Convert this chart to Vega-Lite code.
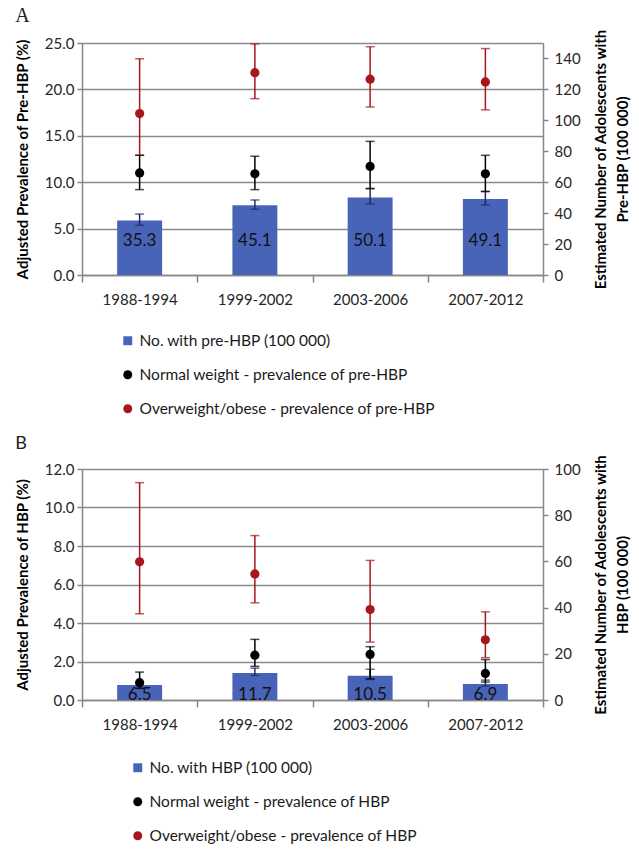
{
  "$schema": "https://vega.github.io/schema/vega-lite/v6.json",
  "padding": {"left": 15, "top": 6, "right": 0, "bottom": 0},
  "background": "white",
  "config": {
    "font": "Lato",
    "view": {"stroke": null},
    "axis": {
      "labelFont": "Lato", "labelFontSize": 15, "labelColor": "#262626", "labelOverlap": false,
      "titleFont": "Lato", "titleFontSize": 15, "titleFontWeight": "bold", "titleColor": "#000000",
      "domainColor": "#878787", "domainWidth": 1.5, "tickColor": "#878787", "tickWidth": 1.5,
      "gridColor": "#8a8a8a", "gridWidth": 1.5
    },
    "legend": {"labelFont": "Lato", "labelFontSize": 15.5, "labelColor": "#1a1a1a", "labelLimit": 500}
  },
  "datasets": {
    "pa": [
      {"period": "1988-1994", "kind": "bar", "series": "No. with pre-HBP (100 000)", "value": 35.3, "lo": 32.1, "hi": 39.4},
      {"period": "1999-2002", "kind": "bar", "series": "No. with pre-HBP (100 000)", "value": 45.1, "lo": 42.5, "hi": 48.5},
      {"period": "2003-2006", "kind": "bar", "series": "No. with pre-HBP (100 000)", "value": 50.1, "lo": 45.9, "hi": 56.0},
      {"period": "2007-2012", "kind": "bar", "series": "No. with pre-HBP (100 000)", "value": 49.1, "lo": 45.3, "hi": 54.0},
      {"period": "1988-1994", "kind": "normal", "series": "Normal weight - prevalence of pre-HBP", "value": 11.0, "lo": 9.2, "hi": 12.9},
      {"period": "1999-2002", "kind": "normal", "series": "Normal weight - prevalence of pre-HBP", "value": 10.9, "lo": 9.2, "hi": 12.8},
      {"period": "2003-2006", "kind": "normal", "series": "Normal weight - prevalence of pre-HBP", "value": 11.7, "lo": 9.3, "hi": 14.4},
      {"period": "2007-2012", "kind": "normal", "series": "Normal weight - prevalence of pre-HBP", "value": 10.9, "lo": 9.0, "hi": 12.9},
      {"period": "1988-1994", "kind": "over", "series": "Overweight/obese - prevalence of pre-HBP", "value": 17.4, "lo": 12.9, "hi": 23.3},
      {"period": "1999-2002", "kind": "over", "series": "Overweight/obese - prevalence of pre-HBP", "value": 21.8, "lo": 19.0, "hi": 24.9},
      {"period": "2003-2006", "kind": "over", "series": "Overweight/obese - prevalence of pre-HBP", "value": 21.1, "lo": 18.1, "hi": 24.6},
      {"period": "2007-2012", "kind": "over", "series": "Overweight/obese - prevalence of pre-HBP", "value": 20.8, "lo": 17.8, "hi": 24.4}
    ],
    "pb": [
      {"period": "1988-1994", "kind": "bar", "series": "No. with HBP (100 000)", "value": 6.5, "lo": 5.2, "hi": 7.9},
      {"period": "1999-2002", "kind": "bar", "series": "No. with HBP (100 000)", "value": 11.7, "lo": 10.6, "hi": 13.8},
      {"period": "2003-2006", "kind": "bar", "series": "No. with HBP (100 000)", "value": 10.5, "lo": 8.9, "hi": 13.3},
      {"period": "2007-2012", "kind": "bar", "series": "No. with HBP (100 000)", "value": 6.9, "lo": 6.0, "hi": 8.6},
      {"period": "1988-1994", "kind": "normal", "series": "Normal weight - prevalence of HBP", "value": 0.9, "lo": 0.6, "hi": 1.45},
      {"period": "1999-2002", "kind": "normal", "series": "Normal weight - prevalence of HBP", "value": 2.33, "lo": 1.75, "hi": 3.15},
      {"period": "2003-2006", "kind": "normal", "series": "Normal weight - prevalence of HBP", "value": 2.37, "lo": 1.1, "hi": 2.77},
      {"period": "2007-2012", "kind": "normal", "series": "Normal weight - prevalence of HBP", "value": 1.38, "lo": 0.93, "hi": 2.1},
      {"period": "1988-1994", "kind": "over", "series": "Overweight/obese - prevalence of HBP", "value": 7.18, "lo": 4.48, "hi": 11.29},
      {"period": "1999-2002", "kind": "over", "series": "Overweight/obese - prevalence of HBP", "value": 6.55, "lo": 5.05, "hi": 8.54},
      {"period": "2003-2006", "kind": "over", "series": "Overweight/obese - prevalence of HBP", "value": 4.7, "lo": 3.01, "hi": 7.25},
      {"period": "2007-2012", "kind": "over", "series": "Overweight/obese - prevalence of HBP", "value": 3.13, "lo": 2.2, "hi": 4.58}
    ]
  },
  "spacing": 16,
  "resolve": {"scale": {"color": "independent", "shape": "independent", "x": "independent", "y": "independent"}},
  "vconcat": [
    {
      "title": {"text": "A", "anchor": "start", "frame": "bounds", "font": "Liberation Serif", "fontSize": 20, "fontWeight": "normal", "color": "#222222", "offset": 2},
      "width": 461, "height": 232,
      "data": {"name": "pa"},
      "encoding": {
        "x": {"field": "period", "type": "nominal", "sort": null, "title": null,
          "scale": {"paddingInner": 0, "paddingOuter": 0},
          "axis": {"labelAngle": 0, "tickBand": "extent", "tickSize": 7, "labelPadding": 10, "grid": false}}
      },
      "resolve": {"scale": {"y": "independent"}},
      "layer": [
        {
          "transform": [{"filter": "datum.kind === 'bar'"}],
          "layer": [
            {
              "mark": {"type": "bar", "width": {"band": 0.39}},
              "encoding": {
                "y": {"field": "value", "type": "quantitative", "scale": {"domain": [0, 150], "nice": false},
                  "axis": {"orient": "right", "values": [0, 20, 40, 60, 80, 100, 120, 140], "tickCount": 20, "grid": false,
                    "title": ["Estimated Number of Adolescents with", "Pre-HBP (100 000)"],
                    "titleAngle": 270, "titleBaseline": "top", "titlePadding": -9, "titleLineHeight": 22, "tickSize": 5, "labelPadding": 6}},
                "color": {"field": "series", "type": "nominal",
                  "scale": {"domain": ["No. with pre-HBP (100 000)", "Normal weight - prevalence of pre-HBP", "Overweight/obese - prevalence of pre-HBP"],
                    "range": ["#4864B8", "#000000", "#A8161D"]},
                  "legend": {"orient": "none", "legendX": 38, "legendY": 290, "direction": "vertical", "title": null,
                    "symbolSize": 80, "symbolStrokeWidth": 0, "labelOffset": 4, "rowPadding": 17, "labelFontSize": 15.5}}
              }
            },
            {
              "mark": {"type": "rule", "color": "#1E2B63", "strokeWidth": 1.5},
              "encoding": {"y": {"field": "lo", "type": "quantitative", "scale": {"domain": [0, 150], "nice": false}}, "y2": {"field": "hi"}}
            },
            {
              "mark": {"type": "tick", "color": "#1E2B63", "size": 9, "thickness": 1.5},
              "encoding": {"y": {"field": "lo", "type": "quantitative", "scale": {"domain": [0, 150], "nice": false}}}
            },
            {
              "mark": {"type": "tick", "color": "#1E2B63", "size": 9, "thickness": 1.5},
              "encoding": {"y": {"field": "hi", "type": "quantitative", "scale": {"domain": [0, 150], "nice": false}}}
            },
            {
              "mark": {"type": "text", "fontSize": 17, "color": "#111111", "font": "Lato", "baseline": "middle"},
              "encoding": {"y": {"datum": 22, "type": "quantitative", "scale": {"domain": [0, 150], "nice": false}},
                "text": {"field": "value", "type": "quantitative", "format": ".1f"}}
            }
          ]
        },
        {
          "transform": [{"filter": "datum.kind !== 'bar'"}],
          "layer": [
            {
              "mark": {"type": "rule", "strokeWidth": 1.5},
              "encoding": {"y": {"field": "lo", "type": "quantitative", "scale": {"domain": [0, 25], "nice": false}}, "y2": {"field": "hi"},
                "color": {"condition": {"test": "datum.kind === 'over'", "value": "#A8161D"}, "value": "#000000"}}
            },
            {
              "mark": {"type": "tick", "size": 9, "thickness": 1.5},
              "encoding": {"y": {"field": "lo", "type": "quantitative", "scale": {"domain": [0, 25], "nice": false}},
                "color": {"condition": {"test": "datum.kind === 'over'", "value": "#A8161D"}, "value": "#000000"}}
            },
            {
              "mark": {"type": "tick", "size": 9, "thickness": 1.5},
              "encoding": {"y": {"field": "hi", "type": "quantitative", "scale": {"domain": [0, 25], "nice": false}},
                "color": {"condition": {"test": "datum.kind === 'over'", "value": "#A8161D"}, "value": "#000000"}}
            },
            {
              "mark": {"type": "point", "filled": true, "size": 85, "opacity": 1},
              "encoding": {
                "y": {"field": "value", "type": "quantitative", "scale": {"domain": [0, 25], "nice": false},
                  "axis": {"orient": "left", "values": [0, 5, 10, 15, 20, 25], "tickCount": 20, "format": ".1f", "grid": true,
                    "title": "Adjusted Prevalence of Pre-HBP (%)", "titlePadding": 14, "tickSize": 5, "labelPadding": 3}},
                "color": {"field": "series", "type": "nominal",
                  "scale": {"domain": ["No. with pre-HBP (100 000)", "Normal weight - prevalence of pre-HBP", "Overweight/obese - prevalence of pre-HBP"],
                    "range": ["#4864B8", "#000000", "#A8161D"]}},
                "shape": {"field": "series", "type": "nominal",
                  "scale": {"domain": ["No. with pre-HBP (100 000)", "Normal weight - prevalence of pre-HBP", "Overweight/obese - prevalence of pre-HBP"],
                    "range": ["square", "circle", "circle"]}}
              }
            }
          ]
        }
      ]
    },
    {
      "title": {"text": "B", "anchor": "start", "frame": "bounds", "font": "Lato", "fontSize": 18, "fontWeight": "normal", "color": "#222222", "offset": 1},
      "width": 461, "height": 231,
      "data": {"name": "pb"},
      "encoding": {
        "x": {"field": "period", "type": "nominal", "sort": null, "title": null,
          "scale": {"paddingInner": 0, "paddingOuter": 0},
          "axis": {"labelAngle": 0, "tickBand": "extent", "tickSize": 7, "labelPadding": 10, "grid": false}}
      },
      "resolve": {"scale": {"y": "independent"}},
      "layer": [
        {
          "transform": [{"filter": "datum.kind === 'bar'"}],
          "layer": [
            {
              "mark": {"type": "bar", "width": {"band": 0.39}},
              "encoding": {
                "y": {"field": "value", "type": "quantitative", "scale": {"domain": [0, 100], "nice": false},
                  "axis": {"orient": "right", "values": [0, 20, 40, 60, 80, 100], "tickCount": 20, "grid": false,
                    "title": ["Estimated Number of Adolescents with", "HBP (100 000)"],
                    "titleAngle": 270, "titleBaseline": "top", "titlePadding": -9, "titleLineHeight": 22, "tickSize": 5, "labelPadding": 6}},
                "color": {"field": "series", "type": "nominal",
                  "scale": {"domain": ["No. with HBP (100 000)", "Normal weight - prevalence of HBP", "Overweight/obese - prevalence of HBP"],
                    "range": ["#4864B8", "#000000", "#A8161D"]},
                  "legend": {"orient": "none", "legendX": 48, "legendY": 291, "direction": "vertical", "title": null,
                    "symbolSize": 80, "symbolStrokeWidth": 0, "labelOffset": 4, "rowPadding": 17, "labelFontSize": 15.5}}
              }
            },
            {
              "mark": {"type": "rule", "color": "#1E2B63", "strokeWidth": 1.5},
              "encoding": {"y": {"field": "lo", "type": "quantitative", "scale": {"domain": [0, 100], "nice": false}}, "y2": {"field": "hi"}}
            },
            {
              "mark": {"type": "tick", "color": "#1E2B63", "size": 9, "thickness": 1.5},
              "encoding": {"y": {"field": "lo", "type": "quantitative", "scale": {"domain": [0, 100], "nice": false}}}
            },
            {
              "mark": {"type": "tick", "color": "#1E2B63", "size": 9, "thickness": 1.5},
              "encoding": {"y": {"field": "hi", "type": "quantitative", "scale": {"domain": [0, 100], "nice": false}}}
            },
            {
              "mark": {"type": "text", "fontSize": 17, "color": "#111111", "font": "Lato", "baseline": "middle"},
              "encoding": {"y": {"datum": 2, "type": "quantitative", "scale": {"domain": [0, 100], "nice": false}},
                "text": {"field": "value", "type": "quantitative", "format": ".1f"}}
            }
          ]
        },
        {
          "transform": [{"filter": "datum.kind !== 'bar'"}],
          "layer": [
            {
              "mark": {"type": "rule", "strokeWidth": 1.5},
              "encoding": {"y": {"field": "lo", "type": "quantitative", "scale": {"domain": [0, 12], "nice": false}}, "y2": {"field": "hi"},
                "color": {"condition": {"test": "datum.kind === 'over'", "value": "#A8161D"}, "value": "#000000"}}
            },
            {
              "mark": {"type": "tick", "size": 9, "thickness": 1.5},
              "encoding": {"y": {"field": "lo", "type": "quantitative", "scale": {"domain": [0, 12], "nice": false}},
                "color": {"condition": {"test": "datum.kind === 'over'", "value": "#A8161D"}, "value": "#000000"}}
            },
            {
              "mark": {"type": "tick", "size": 9, "thickness": 1.5},
              "encoding": {"y": {"field": "hi", "type": "quantitative", "scale": {"domain": [0, 12], "nice": false}},
                "color": {"condition": {"test": "datum.kind === 'over'", "value": "#A8161D"}, "value": "#000000"}}
            },
            {
              "mark": {"type": "point", "filled": true, "size": 85, "opacity": 1},
              "encoding": {
                "y": {"field": "value", "type": "quantitative", "scale": {"domain": [0, 12], "nice": false},
                  "axis": {"orient": "left", "values": [0, 2, 4, 6, 8, 10, 12], "tickCount": 20, "format": ".1f", "grid": true,
                    "title": "Adjusted Prevalence of HBP (%)", "titlePadding": 14, "tickSize": 5, "labelPadding": 3}},
                "color": {"field": "series", "type": "nominal",
                  "scale": {"domain": ["No. with HBP (100 000)", "Normal weight - prevalence of HBP", "Overweight/obese - prevalence of HBP"],
                    "range": ["#4864B8", "#000000", "#A8161D"]}},
                "shape": {"field": "series", "type": "nominal",
                  "scale": {"domain": ["No. with HBP (100 000)", "Normal weight - prevalence of HBP", "Overweight/obese - prevalence of HBP"],
                    "range": ["square", "circle", "circle"]}}
              }
            }
          ]
        }
      ]
    }
  ]
}
